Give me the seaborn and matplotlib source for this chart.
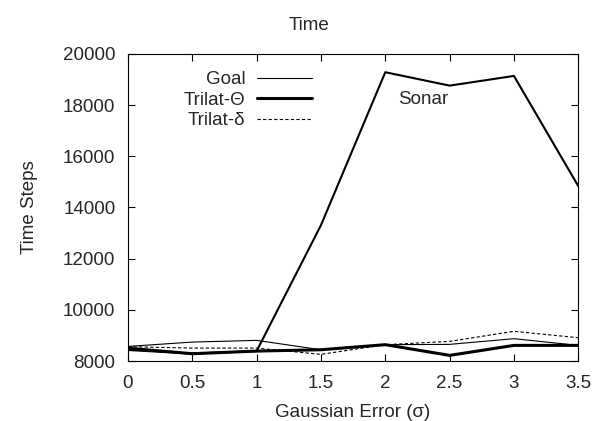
import matplotlib
matplotlib.use("Agg")
import matplotlib.pyplot as plt
import seaborn as sns
import pandas as pd

sigma = [0, 0.5, 1, 1.5, 2, 2.5, 3, 3.5]
goal = [8570, 8740, 8806, 8440, 8638, 8650, 8872, 8610]
trilat_theta = [8500, 8285, 8388, 8440, 8638, 8220, 8610, 8610]
trilat_delta = [8560, 8505, 8505, 8260, 8638, 8767, 9160, 8910]
sonar = [8430, 8290, 8388, 13307, 19284, 18760, 19139, 14834]

sns.set_style("ticks")
plt.rcParams['font.family'] = ['Liberation Sans', 'DejaVu Sans']
plt.rcParams['xtick.direction'] = 'in'
plt.rcParams['ytick.direction'] = 'in'

FS = 13.5
fig = plt.figure(figsize=(5.98, 4.21), dpi=100)
ax = fig.add_axes([0.214, 0.1425, 0.753, 0.7295])

df = pd.DataFrame({"sigma": sigma, "Goal": goal, "Trilat-Θ": trilat_theta,
                   "Trilat-δ": trilat_delta, "Sonar": sonar})

sns.lineplot(data=df, x="sigma", y="Sonar", ax=ax, color="black", linewidth=1.5)
sns.lineplot(data=df, x="sigma", y="Goal", ax=ax, color="black", linewidth=0.8, label="Goal")
sns.lineplot(data=df, x="sigma", y="Trilat-Θ", ax=ax, color="black", linewidth=2.2, label="Trilat-Θ")
sns.lineplot(data=df, x="sigma", y="Trilat-δ", ax=ax, color="black", linewidth=0.8,
             linestyle=(0, (3, 2)), label="Trilat-δ")

ax.set_xlim(0, 3.5)
ax.set_ylim(8000, 20000)
ax.set_xticks(sigma)
ax.set_xticklabels(["0", "0.5", "1", "1.5", "2", "2.5", "3", "3.5"])
ax.set_yticks([8000, 10000, 12000, 14000, 16000, 18000, 20000])
ax.tick_params(axis='both', which='both', top=True, right=True, labelsize=FS,
               length=5, width=0.8, color='black')
ax.tick_params(axis='x', pad=10)
ax.tick_params(axis='y', pad=9)
for s in ax.spines.values():
    s.set_visible(True)
    s.set_color('black')
    s.set_linewidth(0.8)

ax.set_xlabel("Gaussian Error (σ)", fontsize=FS, labelpad=9)
ax.set_ylabel("Time Steps", fontsize=FS, labelpad=18)
fig.text(309 / 598, 1 - 25 / 421, "Time", fontsize=FS, ha='center', va='center')

ax.text(2.1, 18200, "Sonar", fontsize=FS, va='center', ha='left')

leg = ax.legend(loc='upper left', bbox_to_anchor=(0.107, 0.968), frameon=False,
                markerfirst=False, fontsize=FS, handlelength=2.9, handletextpad=0.65,
                labelspacing=0.18, borderaxespad=0)

fig.savefig("out.png", dpi=100)
